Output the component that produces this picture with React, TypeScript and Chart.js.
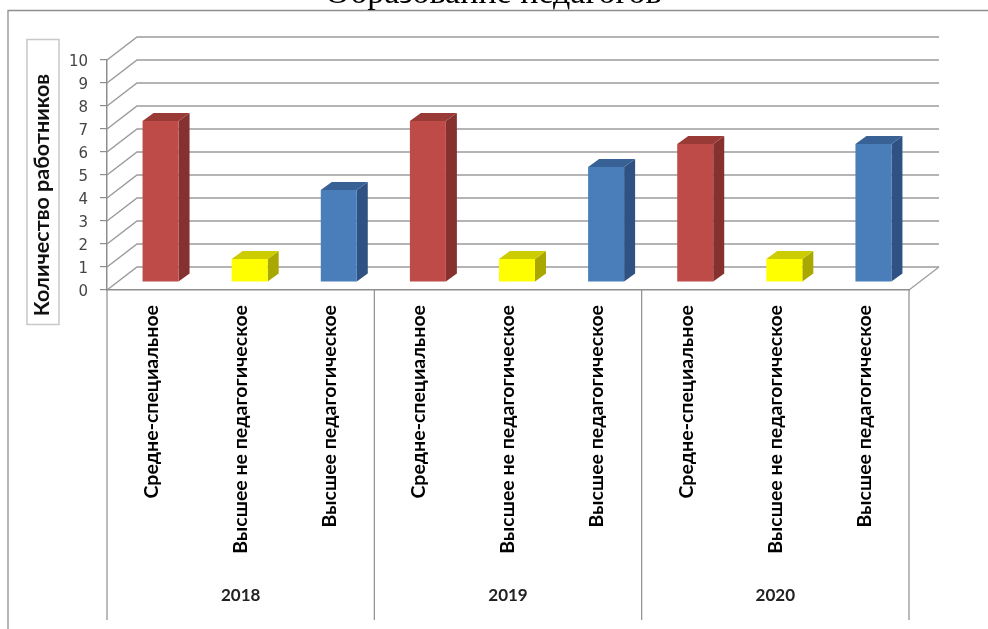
import React, { useEffect, useRef } from "react";
import { Chart, registerables } from "chart.js";

Chart.register(...registerables);

const categories = [
  "Средне-специальное",
  "Высшее не педагогическое",
  "Высшее педагогическое",
  "Средне-специальное",
  "Высшее не педагогическое",
  "Высшее педагогическое",
  "Средне-специальное",
  "Высшее не педагогическое",
  "Высшее педагогическое",
];
const years = ["2018", "2019", "2020"];
const values = [7, 1, 4, 7, 1, 5, 6, 1, 6];
const frontColors = ["#BE4B48", "#FFFF00", "#4A7EBB", "#BE4B48", "#FFFF00", "#4A7EBB", "#BE4B48", "#FFFF00", "#4A7EBB"];
const sideColors = ["#843130", "#A8A800", "#2F5283", "#843130", "#A8A800", "#2F5283", "#843130", "#A8A800", "#2F5283"];
const topColors = ["#9A3A37", "#CCCC00", "#386296", "#9A3A37", "#CCCC00", "#386296", "#9A3A37", "#CCCC00", "#386296"];
const chartTitle = "Образование педагогов";
const yTitle = "Количество работников";

const TOP_SHIFT = 30;
const WALL_DX = 30;
const WALL_DY = 23;
const BAR_DX = 9;
const BAR_DY = 8;
const BAR_DEPTH_X = 11;
const BAR_DEPTH_Y = 8;
const TITLE_SHIFT = 25.5;
const GRID = "#9c9c9c";

const backdrop = {
  id: "backdrop",
  afterLayout(chart: any) {
    chart.titleBlock.left += TITLE_SHIFT;
    chart.titleBlock.right += TITLE_SHIFT;
  },
  beforeDraw(chart: any) {
    const { ctx, scales } = chart;
    const y = scales.y;
    const x = scales.x;
    const x2 = scales.x2;
    y.getLabelItems().forEach((it: any) => {
      if (!it.nudged) {
        it.textOffset += 2.5;
        it.nudged = true;
      }
    });
    ctx.save();
    ctx.fillStyle = "#ffffff";
    ctx.fillRect(0, 0, chart.width, chart.height);
    // frame
    ctx.strokeStyle = "#8e8e8e";
    ctx.lineWidth = 1.3;
    ctx.beginPath();
    ctx.moveTo(8, chart.height);
    ctx.lineTo(8, 10.5 + TOP_SHIFT);
    ctx.lineTo(chart.width, 10.5 + TOP_SHIFT);
    ctx.stroke();
    // wall and side grid lines
    ctx.strokeStyle = GRID;
    ctx.lineWidth = 1.5;
    y.ticks.forEach((t: any) => {
      const py = y.getPixelForValue(t.value);
      ctx.beginPath();
      ctx.moveTo(x.left, py);
      ctx.lineTo(x.left + WALL_DX, py - WALL_DY);
      ctx.lineTo(x.right + WALL_DX, py - WALL_DY);
      ctx.stroke();
    });
    // floor edge, axis lines
    const floor = y.getPixelForValue(0);
    ctx.lineWidth = 1.2;
    ctx.beginPath();
    ctx.moveTo(x.right, floor);
    ctx.lineTo(x.right + WALL_DX, floor - WALL_DY);
    ctx.stroke();
    // group separators
    ctx.strokeStyle = "#8e8e8e";
    const band = x2.width / years.length;
    for (let i = 0; i <= years.length; i++) {
      const px = x2.left + i * band;
      ctx.beginPath();
      ctx.moveTo(px, floor);
      ctx.lineTo(px, 620 + TOP_SHIFT);
      ctx.stroke();
    }
    ctx.restore();
  },
  beforeDatasetsDraw(chart: any) {
    const { ctx } = chart;
    ctx.save();
    ctx.translate(BAR_DX, -BAR_DY);
    const meta = chart.getDatasetMeta(0);
    meta.data.forEach((bar: any, i: number) => {
      const { x, y, width, base } = bar.getProps(["x", "y", "width", "base"], true);
      const l = x - width / 2;
      const r = x + width / 2;
      ctx.fillStyle = sideColors[i];
      ctx.beginPath();
      ctx.moveTo(r, y);
      ctx.lineTo(r + BAR_DEPTH_X, y - BAR_DEPTH_Y);
      ctx.lineTo(r + BAR_DEPTH_X, base - BAR_DEPTH_Y);
      ctx.lineTo(r, base);
      ctx.closePath();
      ctx.fill();
      ctx.fillStyle = topColors[i];
      ctx.beginPath();
      ctx.moveTo(l, y);
      ctx.lineTo(l + BAR_DEPTH_X, y - BAR_DEPTH_Y);
      ctx.lineTo(r + BAR_DEPTH_X, y - BAR_DEPTH_Y);
      ctx.lineTo(r, y);
      ctx.closePath();
      ctx.fill();
    });
  },
  afterDatasetsDraw(chart: any) {
    chart.ctx.restore();
  },
  afterDraw(chart: any) {
    const { ctx } = chart;
    const boxLeft = 27;
    const boxTop = 39.5 + TOP_SHIFT;
    const boxW = 32;
    const boxH = 285;
    ctx.save();
    ctx.strokeStyle = "#c8c8c8";
    ctx.lineWidth = 1.5;
    ctx.strokeRect(boxLeft, boxTop, boxW, boxH);
    ctx.translate(42, 195 + TOP_SHIFT);
    ctx.rotate(-Math.PI / 2);
    ctx.fillStyle = "#111111";
    ctx.font = "bold 21.5px 'Lato', 'Noto Sans'";
    ctx.textAlign = "center";
    ctx.textBaseline = "middle";
    ctx.fillText(yTitle, 0, 0);
    ctx.restore();
  },
};

export default function App() {
  const ref = useRef<HTMLCanvasElement>(null);
  useEffect(() => {
    const chart = new Chart(ref.current!, {
      type: "bar",
      data: {
        labels: categories,
        datasets: [
          {
            data: values,
            backgroundColor: frontColors,
            barPercentage: 0.404,
            categoryPercentage: 1,
            xAxisID: "x",
            yAxisID: "y",
          },
        ],
      },
      options: {
        responsive: false,
        animation: false,
        layout: { padding: { left: 27, right: 79, top: 0, bottom: 0 } },
        plugins: {
          legend: { display: false },
          tooltip: { enabled: false },
          title: {
            display: true,
            text: chartTitle,
            color: "#000000",
            font: { family: "'Liberation Serif'", size: 34, weight: "normal" },
            padding: { top: 3.6, bottom: 45.6 },
          },
        },
        scales: {
          x: {
            position: "bottom",
            border: { display: true, color: "#8e8e8e", width: 1.5 },
            grid: { display: false },
            ticks: {
              autoSkip: false,
              minRotation: 90,
              maxRotation: 90,
              padding: 7,
              color: "#000000",
              font: { family: "'Lato', 'Noto Sans'", size: 19.5, weight: "bold" },
            },
            afterFit(s: any) {
              s.height = 285;
            },
          },
          x2: {
            type: "category",
            labels: years,
            position: "bottom",
            offset: true,
            border: { display: false },
            grid: { display: false },
            ticks: {
              padding: 2,
              color: "#222222",
              font: { family: "'Lato', 'Noto Sans'", size: 17, weight: "bold" },
            },
            afterFit(s: any) {
              s.height = 54;
            },
          },
          y: {
            min: 0,
            max: 10,
            border: { display: true, color: "#8e8e8e", width: 1.5 },
            grid: { drawOnChartArea: false, tickLength: 7, color: "#8e8e8e", lineWidth: 1.2 },
            ticks: {
              stepSize: 1,
              padding: 12,
              color: "#444444",
              font: { family: "'DejaVu Sans'", size: 15 },
            },
            afterFit(s: any) {
              s.width = 80;
            },
          },
        },
      } as any,
      plugins: [backdrop],
    });
    return () => chart.destroy();
  }, []);
  return (
    <div style={{ position: "fixed", left: 0, top: 0, width: 988, height: 629, overflow: "hidden", background: "#fff" }}>
      <canvas
        ref={ref}
        width={988}
        height={629 + TOP_SHIFT}
        style={{ position: "absolute", left: 0, top: -TOP_SHIFT, width: 988, height: 629 + TOP_SHIFT }}
      />
    </div>
  );
}
